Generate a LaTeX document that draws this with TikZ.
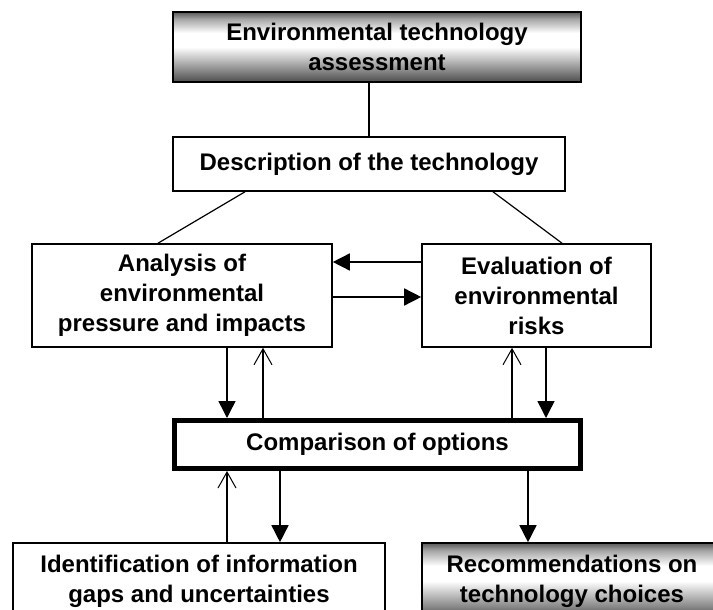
\documentclass[tikz,border=0pt]{standalone}
\usepackage{fontspec}
\setmainfont{Liberation Sans}
\usetikzlibrary{arrows.meta}

% grey-white-grey bar used for the first and the last step
\pgfdeclareverticalshading{barrel}{100bp}{color(0bp)=(black!70); color(25bp)=(black!70); color(35bp)=(black!42); color(50bp)=(white); color(60bp)=(white); color(70bp)=(black!35); color(75bp)=(black!65); color(100bp)=(black!65)}

\begin{document}
\begin{tikzpicture}[x=0.5pt,y=-0.5pt,
  every node/.style={font=\bfseries\fontsize{12}{15}\selectfont, align=center, inner sep=0pt},
  box/.style={draw, line width=0.8pt, fill=white},
  shadebox/.style={draw, line width=0.8pt, shade, shading=barrel},
  thickbox/.style={draw, line width=2.5pt, fill=white},
  link/.style={line width=0.6pt},
  fillarrow/.style={line width=0.75pt, -{Triangle[length=8.5pt,width=8.5pt]}},
  openarrow/.style={line width=0.75pt, -{Straight Barb[length=8pt,width=9pt,line width=0.5pt]}}]
  \useasboundingbox (0,0) rectangle (713,610);
  \clip (0,0) rectangle (713,610);

  \node[shadebox, minimum width=204pt, minimum height=35pt] (env) at (377,47) {Environmental technology\\assessment};
  \node[box, minimum width=196pt, minimum height=27pt] (desc) at (369,164) {Description of the technology};

  \node[box, minimum width=150pt, minimum height=51.5pt] (ana) at (182,295.5) {Analysis of\\environmental\\pressure and impacts};
  \node[box, minimum width=114.5pt, minimum height=51.5pt] (eva) at (536.5,295.5) {Evaluation of\\environmental\\risks};

  \node[thickbox, minimum width=203pt, minimum height=24pt] (cmp) at (377.5,444.5) {Comparison of options};

  \node[box, minimum width=186pt, minimum height=38pt] (idf) at (199,581) {Identification of information\\gaps and uncertainties};
  \node[shadebox, minimum width=150pt, minimum height=38pt] (rec) at (572,581) {Recommendations on\\technology choices};

  % plain links from the top
  \draw[link] (desc.north) -- (desc.north |- env.south);
  \draw[link] (desc.south -| 245,0) -- (ana.north -| 158,0);
  \draw[link] (desc.south -| 493,0) -- (eva.north -| 562,0);

  % analysis <-> evaluation
  \draw[fillarrow] (eva.west |- 0,262) -- (ana.east |- 0,262);
  \draw[fillarrow] (ana.east |- 0,297) -- (eva.west |- 0,297);

  % into and out of the comparison
  \draw[fillarrow] (ana.south -| 227,0) -- (cmp.north -| 227,0);
  \draw[openarrow] (cmp.north -| 263,0) -- (ana.south -| 263,0);
  \draw[openarrow] (cmp.north -| 512,0) -- (eva.south -| 512,0);
  \draw[fillarrow] (eva.south -| 546,0) -- (cmp.north -| 546,0);

  \draw[openarrow] (idf.north -| 227,0) -- (cmp.south -| 227,0);
  \draw[fillarrow] (cmp.south -| 280,0) -- (idf.north -| 280,0);
  \draw[fillarrow] (cmp.south -| 528,0) -- (rec.north -| 528,0);
\end{tikzpicture}
\end{document}
